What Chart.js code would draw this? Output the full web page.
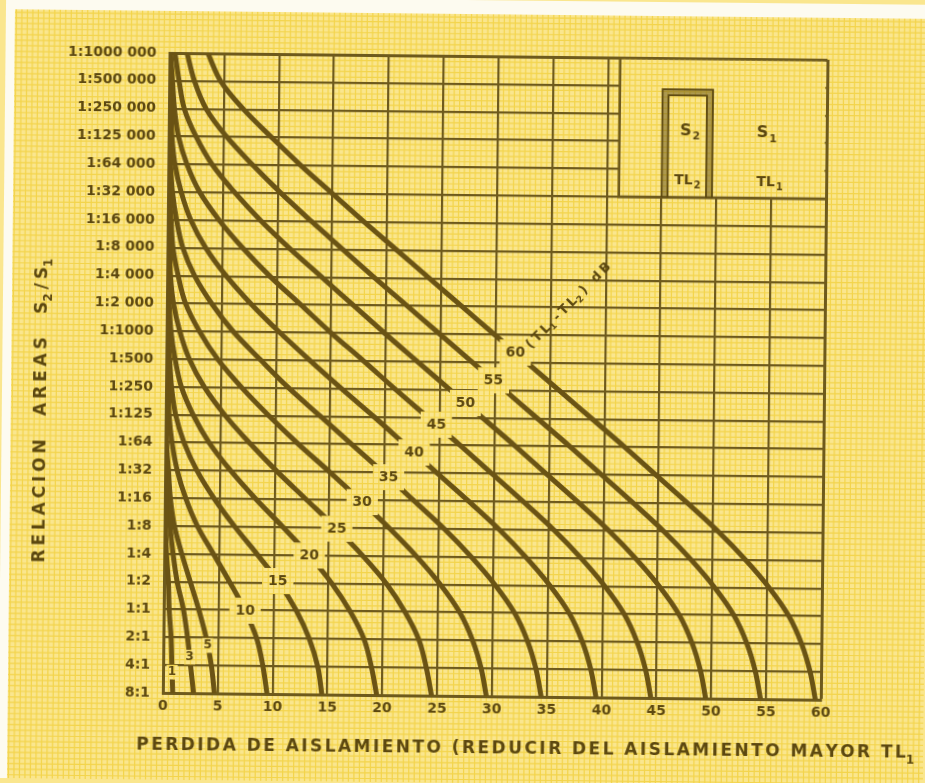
<!DOCTYPE html>
<html>
<head>
<meta charset="utf-8">
<script src="https://cdn.jsdelivr.net/npm/chart.js@4.4.1/dist/chart.umd.min.js"></script>
<style>
  html, body { margin: 0; padding: 0; background: #fae68e; overflow: hidden; }
  #wrap { position: relative; width: 925px; height: 783px; }
  /* the scanned sheet sits slightly turned */
  #chart { transform: translate(2px, 0) rotate(0.6deg); }
</style>
</head>
<body>
<div id="wrap"><canvas id="chart" width="925" height="783"></canvas></div>
<script>
  // rows from bottom (8:1) to top (1:1000 000)
  var ratioLabels = ['8:1', '4:1', '2:1', '1:1', '1:2', '1:4', '1:8', '1:16', '1:32', '1:64',
    '1:125', '1:250', '1:500', '1:1000', '1:2 000', '1:4 000', '1:8 000', '1:16 000',
    '1:32 000', '1:64 000', '1:125 000', '1:250 000', '1:500 000', '1:1000 000']

  // TL1 - TL2 (dB) of each curve
  var diffs = [1, 3, 5, 10, 15, 20, 25, 30, 35, 40, 45, 50, 55, 60]

  // loss of insulation (dB) read on each row, bottom to top
  var loss1 = [0.9, 0.8, 0.7, 0.5, 0.4, 0.2, 0.1, 0.1, 0, 0, 0, 0, 0, 0, 0, 0, 0, 0, 0, 0, 0, 0, 0, 0]
  var loss3 = [2.8, 2.5, 2.2, 1.8, 1.2, 0.8, 0.5, 0.3, 0.1, 0.1, 0, 0, 0, 0, 0, 0, 0, 0, 0, 0, 0, 0, 0, 0]
  var loss5 = [4.7, 4.4, 3.9, 3.2, 2.4, 1.6, 0.9, 0.5, 0.3, 0.1, 0.1, 0, 0, 0, 0, 0, 0, 0, 0, 0, 0, 0, 0, 0]
  var loss10 = [9.5, 9.1, 8.5, 7.4, 6.0, 4.5, 3.0, 1.9, 1.1, 0.6, 0.3, 0.2, 0.1, 0, 0, 0, 0, 0, 0, 0, 0, 0, 0, 0]
  var loss15 = [14.5, 14.1, 13.3, 12.1, 10.5, 8.5, 6.4, 4.5, 2.9, 1.7, 0.9, 0.5, 0.3, 0.1, 0.1, 0, 0, 0, 0, 0, 0, 0, 0, 0]
  var loss20 = [19.5, 19.0, 18.3, 17.0, 15.3, 13.2, 10.8, 8.3, 6.0, 4.0, 2.5, 1.4, 0.8, 0.4, 0.2, 0.1, 0.1, 0, 0, 0, 0, 0, 0, 0]
  var loss25 = [24.5, 24.0, 23.3, 22.0, 20.3, 18.1, 15.6, 12.9, 10.2, 7.7, 5.4, 3.5, 2.1, 1.2, 0.6, 0.3, 0.2, 0.1, 0, 0, 0, 0, 0, 0]
  var loss30 = [29.5, 29.0, 28.2, 27.0, 25.2, 23.0, 20.5, 17.8, 15.0, 12.1, 9.4, 6.9, 4.7, 3.0, 1.7, 1.0, 0.5, 0.3, 0.1, 0.1, 0, 0, 0, 0]
  var loss35 = [34.5, 34.0, 33.2, 32.0, 30.2, 28.0, 25.5, 22.7, 19.9, 17.0, 14.1, 11.2, 8.6, 6.1, 4.1, 2.5, 1.4, 0.8, 0.4, 0.2, 0.1, 0.1, 0, 0]
  var loss40 = [39.5, 39.0, 38.2, 37.0, 35.2, 33.0, 30.5, 27.7, 24.8, 21.9, 19.0, 16.0, 13.1, 10.3, 7.7, 5.4, 3.5, 2.1, 1.2, 0.6, 0.3, 0.2, 0.1, 0]
  var loss45 = [44.5, 44.0, 43.2, 42.0, 40.2, 38.0, 35.5, 32.7, 29.8, 26.9, 23.9, 20.9, 18.0, 15.0, 12.2, 9.4, 6.9, 4.7, 2.9, 1.7, 0.9, 0.5, 0.3, 0.1]
  var loss50 = [49.5, 49.0, 48.2, 47.0, 45.2, 43.0, 40.5, 37.7, 34.8, 31.9, 28.9, 25.9, 22.9, 19.9, 17.0, 14.1, 11.2, 8.5, 6.1, 4.0, 2.5, 1.4, 0.9, 0.5]
  var loss55 = [54.5, 54.0, 53.2, 52.0, 50.2, 48.0, 45.5, 42.7, 39.8, 36.9, 33.9, 30.9, 27.9, 24.9, 21.9, 18.9, 16.0, 13.1, 10.3, 7.7, 5.3, 3.4, 2.3, 1.6]
  var loss60 = [59.5, 59.0, 58.2, 57.0, 55.2, 53.0, 50.5, 47.7, 44.8, 41.9, 38.9, 35.9, 32.9, 29.9, 26.9, 23.9, 20.9, 17.9, 15.0, 12.1, 9.4, 6.8, 4.7, 3.5]

  var curves = [loss1, loss3, loss5, loss10, loss15, loss20, loss25, loss30,
    loss35, loss40, loss45, loss50, loss55, loss60]

  // row where each curve carries its number
  var labelRows = [0.75, 1.29, 1.72, 2.98, 4.06, 4.99, 5.96, 6.93, 7.83, 8.73, 9.74, 10.53, 11.35, 12.36]

  var ink = '#5c4810'
  var lineInk = '#6a5314'
  var gridInk = '#6e5a1c'
  var paperColor = '#fae68e'
  var paperLine = 'rgba(238, 200, 30, 0.6)'
  var fontFamily = '"DejaVu Sans", sans-serif'

  function drawPaper(ctx, x0, y0, x1, y1) {
    ctx.save()
    ctx.beginPath()
    ctx.rect(x0, y0, x1 - x0, y1 - y0)
    ctx.clip()
    ctx.fillStyle = paperColor
    ctx.fillRect(x0, y0, x1 - x0, y1 - y0)
    ctx.strokeStyle = paperLine
    ctx.lineWidth = 1.2
    ctx.beginPath()
    for (var x = 10.48; x < 940; x += 5.483) { ctx.moveTo(x, -20); ctx.lineTo(x, 800) }
    for (var y = 17.07; y < 800; y += 5.565) { ctx.moveTo(-20, y); ctx.lineTo(940, y) }
    ctx.stroke()
    ctx.restore()
  }

  // text with letter spacing stretched to a given width; parts = [text, size, dy, isSub]
  function spacedText(ctx, parts, x, y, width) {
    var glyphs = []
    var subs = 0
    parts.forEach(function (p) {
      ctx.font = 'bold ' + p[1] + 'px ' + fontFamily
      for (var ch of p[0]) {
        glyphs.push({ ch: ch, font: ctx.font, w: ctx.measureText(ch).width, dy: p[2], sub: p[3] })
        if (p[3]) subs++
      }
    })
    var total = glyphs.reduce(function (s, g) { return s + g.w }, 0)
    var gap = (width - total) / (glyphs.length - 1 - subs)
    var cx = x
    glyphs.forEach(function (g, i) {
      if (i > 0 && !g.sub) cx += gap
      ctx.font = g.font
      ctx.fillText(g.ch, cx, y + g.dy)
      cx += g.w
    })
  }

  function subText(ctx, main, sub, cx, cy, size) {
    ctx.font = 'bold ' + size + 'px ' + fontFamily
    var w1 = ctx.measureText(main).width
    ctx.font = 'bold ' + Math.round(size * 0.7) + 'px ' + fontFamily
    var w2 = ctx.measureText(sub).width
    var x = cx - (w1 + w2) / 2
    ctx.textAlign = 'left'
    ctx.textBaseline = 'middle'
    ctx.font = 'bold ' + size + 'px ' + fontFamily
    ctx.fillText(main, x, cy)
    ctx.font = 'bold ' + Math.round(size * 0.7) + 'px ' + fontFamily
    ctx.fillText(sub, x + w1 + 1, cy + size * 0.35)
  }

  var paperPlugin = {
    id: 'paper',
    beforeDraw: function (chart) {
      var ctx = chart.ctx
      ctx.save()
      ctx.fillStyle = '#fdfbf0'
      ctx.fillRect(0, 0, 925, 783)
      ctx.restore()
      drawPaper(ctx, 9, 14, 925, 783)
    },
    afterDatasetsDraw: function (chart) {
      var ctx = chart.ctx
      var xs = chart.scales.x
      var ys = chart.scales.y
      var area = chart.chartArea

      // inset with the two partitions
      var xL = xs.getPixelForValue(41.1)
      var yB = ys.getPixelForValue(18)
      drawPaper(ctx, xL, area.top + 1.6, area.right - 1.6, yB)
      ctx.save()
      ctx.strokeStyle = gridInk
      ctx.lineWidth = 2.6
      ctx.beginPath()
      ctx.moveTo(xL, area.top)
      ctx.lineTo(xL, yB)
      ctx.lineTo(area.right, yB)
      ctx.stroke()

      var d0 = xs.getPixelForValue(45.0)
      var d1 = xs.getPixelForValue(49.6)
      var dt = ys.getPixelForValue(21.88)
      ctx.strokeStyle = 'rgba(95, 75, 16, 0.5)'
      ctx.lineWidth = 6
      ctx.beginPath()
      ctx.moveTo(d0 + 3, yB)
      ctx.lineTo(d0 + 3, dt + 3)
      ctx.lineTo(d1 - 3, dt + 3)
      ctx.lineTo(d1 - 3, yB)
      ctx.stroke()
      ctx.strokeStyle = ink
      ctx.lineWidth = 1.8
      ctx.beginPath()
      ctx.moveTo(d0, yB); ctx.lineTo(d0, dt); ctx.lineTo(d1, dt); ctx.lineTo(d1, yB)
      ctx.moveTo(d0 + 6, yB); ctx.lineTo(d0 + 6, dt + 6); ctx.lineTo(d1 - 6, dt + 6); ctx.lineTo(d1 - 6, yB)
      ctx.stroke()

      ctx.fillStyle = ink
      subText(ctx, 'S', '2', xs.getPixelForValue(47.5), ys.getPixelForValue(20.4), 16)
      subText(ctx, 'S', '1', xs.getPixelForValue(54.5), ys.getPixelForValue(20.33), 16)
      subText(ctx, 'TL', '2', xs.getPixelForValue(47.3), ys.getPixelForValue(18.6), 14)
      subText(ctx, 'TL', '1', xs.getPixelForValue(54.8), ys.getPixelForValue(18.55), 14)

      // curve numbers, set in a gap of the curve
      ctx.textAlign = 'center'
      ctx.textBaseline = 'middle'
      diffs.forEach(function (d, k) {
        var row = labelRows[k]
        var arr = curves[k]
        var i = Math.floor(row)
        var xv = arr[i] + (arr[i + 1] - arr[i]) * (row - i)
        var px = xs.getPixelForValue(xv)
        var py = ys.getPixelForValue(row)
        var txt = String(d)
        ctx.font = (d < 10 ? 'bold 12px ' : 'bold 14px ') + fontFamily
        var w = ctx.measureText(txt).width + (d < 10 ? 3 : 12)
        var h = d < 10 ? 15 : 26
        drawPaper(ctx, px - w / 2, py - h / 2, px + w / 2, py + h / 2)
        ctx.fillStyle = ink
        ctx.fillText(txt, px, py)
      })

      // curve family note
      ctx.save()
      ctx.translate(xs.getPixelForValue(36.6), ys.getPixelForValue(14.05))
      ctx.rotate(-46 * Math.PI / 180)
      ctx.textBaseline = 'middle'
      ctx.textAlign = 'left'
      ctx.fillStyle = ink
      spacedText(ctx, [['(TL', 13, 0, false], ['1', 9, 4, true], ['-TL', 13, 0, false],
        ['2', 9, 4, true], [') dB', 13, 0, false]], -57, 0, 115)
      ctx.restore()
      ctx.restore()
    },
    afterDraw: function (chart) {
      var ctx = chart.ctx
      ctx.save()
      ctx.fillStyle = ink
      ctx.textAlign = 'left'
      ctx.textBaseline = 'middle'
      spacedText(ctx, [['PERDIDA DE AISLAMIENTO (REDUCIR DEL AISLAMIENTO MAYOR TL', 17, 0, false],
        ['1', 12, 7, true]], 138, 749, 778)
      ctx.translate(40, 567)
      ctx.rotate(-Math.PI / 2)
      spacedText(ctx, [['RELACION  AREAS  S', 17, 0, false], ['2', 12, 6, true],
        ['/S', 17, 0, false], ['1', 12, 6, true]], 0, 0, 304)
      ctx.restore()
    }
  }

  var datasets = curves.map(function (arr, k) {
    return {
      label: String(diffs[k]),
      data: arr.map(function (v, i) { return { x: v, y: i } }),
      borderColor: lineInk,
      borderWidth: 5,
      pointRadius: 0,
      tension: 0.35,
      fill: false
    }
  })

  var tickFont = { family: fontFamily, weight: 'bold', size: 14 }

  var ctx = document.getElementById('chart')
  var chart = new Chart(ctx, {
    type: 'line',
    data: { datasets: datasets },
    options: {
      responsive: false,
      animation: false,
      layout: { padding: { left: 0, top: 56, right: 103, bottom: 0 } },
      plugins: { legend: { display: false }, tooltip: { enabled: false } },
      scales: {
        x: {
          type: 'linear',
          min: 0,
          max: 60,
          ticks: { stepSize: 5, color: ink, font: tickFont, padding: 5, maxRotation: 0 },
          grid: {
            color: gridInk,
            lineWidth: function (c) { return c.tick && c.tick.value === 60 ? 3 : 2.2 },
            drawTicks: false
          },
          border: { color: gridInk, width: 3 },
          afterFit: function (s) { s.height = 87 }
        },
        y: {
          type: 'linear',
          min: 0,
          max: 23,
          ticks: {
            stepSize: 1,
            autoSkip: false,
            color: ink,
            font: tickFont,
            padding: 13,
            callback: function (v) { return ratioLabels[v] }
          },
          grid: {
            color: gridInk,
            lineWidth: function (c) { return c.tick && c.tick.value === 23 ? 3 : 2.2 },
            drawTicks: false
          },
          border: { color: gridInk, width: 3 },
          afterFit: function (s) { s.width = 164 }
        }
      }
    },
    plugins: [paperPlugin]
  })
</script>
</body>
</html>
